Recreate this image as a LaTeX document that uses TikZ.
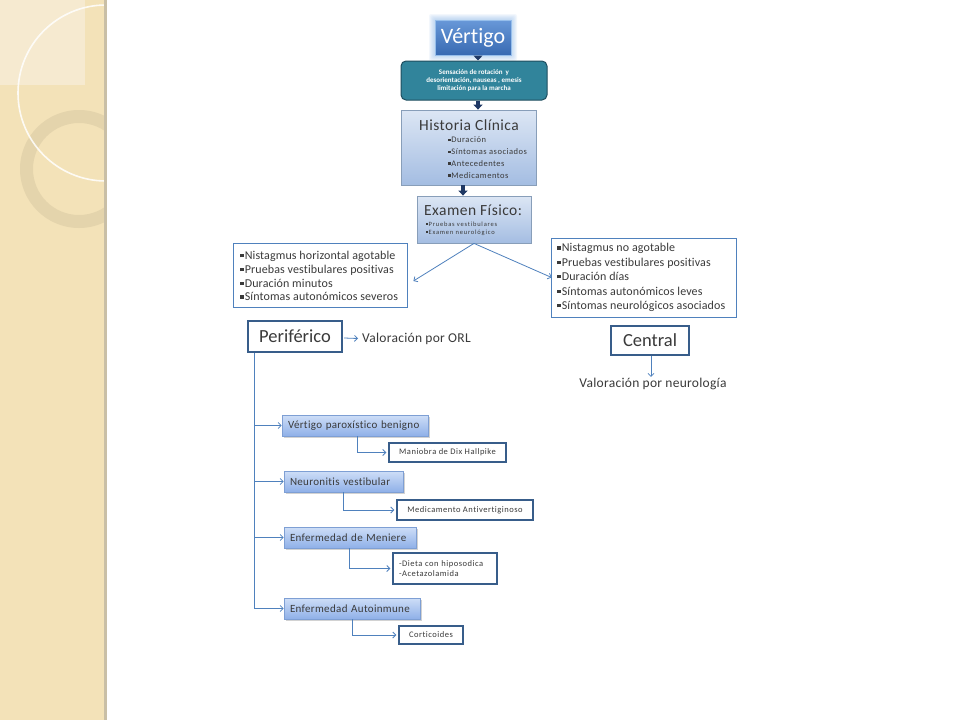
\documentclass[tikz,border=0pt]{standalone}
\usepackage{fontspec}
\setmainfont{Carlito}[Ligatures=NoCommon]
\usetikzlibrary{shadows,arrows.meta,calc}
\definecolor{band}{HTML}{F3E2B8}
\definecolor{bandlight}{HTML}{F6EAD0}
\definecolor{ringc}{HTML}{E4D4AC}
\definecolor{edgec}{HTML}{C9BFA6}
\definecolor{conn}{HTML}{4F81BD}
\definecolor{navy}{HTML}{1F3864}
\definecolor{teal}{HTML}{31849B}
\definecolor{tealdark}{HTML}{1F4E5F}
\definecolor{boxline}{HTML}{385D8A}
\definecolor{txt}{HTML}{3A3A3A}
\definecolor{glowc}{HTML}{8DB8EA}
\newcommand{\fs}[1]{\fontsize{#1}{#1}\selectfont}
\newcommand{\ls}[1]{\addfontfeature{LetterSpace=#1}}
\newcommand{\bul}{\raisebox{0.18em}{\rule{0.28em}{0.28em}}\hspace{0.1em}}
\tikzset{
  conline/.style={draw=conn, line width=0.8pt, -{Straight Barb[length=3pt,width=6pt]}},
  blockarrow/.style={draw=navy, line width=3.5pt, -{Triangle[width=9pt,length=5pt]}},
  histbox/.style={draw=boxline!60, line width=0.8pt, top color={rgb,255:red,220;green,230;blue,244}, bottom color={rgb,255:red,164;green,189;blue,226}, inner sep=0pt},
  disbox/.style={draw={rgb,255:red,126;green,159;blue,212}, line width=0.7pt, top color={rgb,255:red,206;green,222;blue,247}, bottom color={rgb,255:red,143;green,176;blue,232}, inner xsep=6pt, inner ysep=0pt, text=txt, font=\fs{11}\ls{3}, text width=#1, align=left, drop shadow={shadow xshift=1.5pt, shadow yshift=-1.5pt, opacity=.35}},
  listbox/.style={draw=conn, line width=0.8pt, fill=white, inner sep=0pt},
  bigbox/.style={draw=boxline, line width=2.4pt, fill=white, inner sep=0pt, text=txt, font=\fs{18.5}},
  subbox/.style={draw=boxline, line width=1.4pt, fill=white, inner sep=0pt, text=txt, font=\fs{8.5}\ls{6}},
  listtext/.style={anchor=west, align=left, inner sep=0pt, text=txt},
}
\begin{document}
\begin{tikzpicture}[x=1pt,y=-1pt]
\useasboundingbox (0,0) rectangle (960,720);
\fill[white] (0,0) rectangle (960,720);
% left decorative band
\fill[band] (0,0) rectangle (105,720);
\fill[bandlight] (0,0) rectangle (85,85);
\begin{scope}
  \clip (0,0) rectangle (105,720);
  \fill[ringc, even odd rule] (79,169) circle (59) (79,169) circle (46);
  \draw[white, line width=1.6pt, opacity=.85] (106,93) circle (88);
\end{scope}
\fill[edgec] (104,0) rectangle (106.5,720);

% glow around Vertigo
\foreach \i in {1,...,6} {
  \fill[glowc, opacity=0.10, rounded corners=2pt] ($(435,20)+(-\i,-\i)$) rectangle ($(511,55)+(\i,\i)$);
}
\node[draw={rgb,255:red,150;green,190;blue,235}, line width=1pt, top color={rgb,255:red,104;green,152;blue,216}, bottom color={rgb,255:red,56;green,106;blue,178}, minimum width=76pt, minimum height=35pt, inner sep=0pt, text=white, font=\fs{22}] (v) at (473,37.5) {Vértigo};

\node[draw=tealdark, line width=1pt, fill=teal, rounded corners=5pt, minimum width=146pt, minimum height=39pt, inner sep=0pt, text=white, font=\bfseries\fs{7}, align=center] (s) at (474,80.5) {Sensación de rotación\ \ y\\[1.3pt]desorientación, nauseas , emesis\\[1.3pt]limitación para la marcha};

\node[histbox, minimum width=135pt, minimum height=75pt] (h) at (468.5,147.5) {};
\node[text=txt, font=\fs{15.5}\ls{3}, inner sep=0pt] (ht) at (469,125) {Historia Clínica};
\node[listtext, font=\fs{8.5}\ls{6}] (hl) at (448,157.5) {\bul Duración\\[3.3pt]\bul Síntomas asociados\\[3.3pt]\bul Antecedentes\\[3.3pt]\bul Medicamentos};

\node[histbox, minimum width=114pt, minimum height=47pt] (e) at (474,219.5) {};
\node[anchor=west, text=txt, font=\fs{15.5}\ls{3}, inner sep=0pt] (et) at (424,210) {Examen Físico:};
\node[listtext, font=\fs{6.5}\ls{12}] (el) at (426,228.5) {\bul Pruebas vestibulares\\[1.8pt]\bul Examen neurológico};

\draw[blockarrow] ($(v.south)+(5,0)$) -- ($(s.north)+(4,0)$);
\draw[blockarrow] ($(s.south)+(4,0)$) -- ($(h.north)+(9.5,0)$);
\draw[blockarrow] ($(h.south)+(-5.5,0)$) -- ($(e.north)+(-11,0)$);

% list boxes
\node[listbox, minimum width=174pt, minimum height=64pt] (lb) at (320,275) {};
\node[listtext, font=\fs{12}\ls{1}] (lt) at (240,276) {\bul Nistagmus horizontal agotable\\[1.8pt]\bul Pruebas vestibulares positivas\\[1.8pt]\bul Duración minutos\\[1.8pt]\bul Síntomas autonómicos severos};
\node[listbox, minimum width=185pt, minimum height=79pt] (rb) at (643.5,277.5) {};
\node[listtext, font=\fs{12}\ls{1}] (rt) at (557,277.5) {\bul Nistagmus no agotable\\[2.4pt]\bul Pruebas vestibulares positivas\\[2.4pt]\bul Duración días\\[2.4pt]\bul Síntomas autonómicos leves\\[2.4pt]\bul Síntomas neurológicos asociados};

\draw[conline] (e.south) -- ($(lb.east)+(6,6)$);
\draw[conline] (e.south) -- ($(rb.west)+(1,0)$);

% Periferico / Central
\node[bigbox, minimum width=94pt, minimum height=31pt] (p) at (295,336.5) {Periférico};
\node[anchor=west, inner sep=0pt, text=txt, font=\fs{13.5}\ls{2}] (orl) at (362,338.5) {Valoración por ORL};
\draw[conline] ($(p.east)+(1,1.5)$) -- ($(orl.west)+(-4,0)$);

\node[bigbox, minimum width=78pt, minimum height=29pt] (c) at (650,340.5) {Central};
\node[inner sep=0pt, text=txt, font=\fs{13.5}\ls{2}] (neu) at (653,384) {Valoración por neurología};
\draw[conline] ($(c.south)+(1,0)$) -- ($(neu.north)+(-2,-1)$);

% disease boxes
\node[disbox=134pt, minimum height=21pt] (d1) at (355,425.5) {Vértigo paroxístico benigno};
\node[disbox=107pt, minimum height=21pt] (d2) at (343.5,481.5) {Neuronitis vestibular};
\node[disbox=120pt, minimum height=21pt] (d3) at (350,537.5) {Enfermedad de Meniere};
\node[disbox=124pt, minimum height=21pt] (d4) at (352,608.5) {Enfermedad Autoinmune};

\coordinate (pv) at ($(p.south west)+(8,0)$);
\draw[conline] (pv) |- (d1.west);
\draw[conline] (pv) |- (d2.west);
\draw[conline] (pv) |- (d3.west);
\draw[conline] (pv) |- (d4.west);

% sub boxes
\node[subbox, minimum width=117pt, minimum height=19pt] (s1) at (447.5,452.5) {Maniobra de Dix Hallpike};
\node[subbox, minimum width=136pt, minimum height=20pt] (s2) at (465,510) {Medicamento Antivertiginoso};
\node[subbox, minimum width=104pt, minimum height=31pt, align=left, text width=92pt, inner xsep=6pt] (s3) at (445,568.5) {-Dieta con hiposodica\\[1pt]-Acetazolamida};
\node[subbox, minimum width=64pt, minimum height=18pt] (s4) at (431,635) {Corticoides};

\draw[conline, shorten >=2pt] ($(d1.south)+(2,0)$) |- (s1.west);
\draw[conline, shorten >=2pt] (d2.south) |- (s2.west);
\draw[conline, shorten >=2pt] ($(d3.south)+(-1,0)$) |- (s3.west);
\draw[conline, shorten >=2pt] (d4.south) |- (s4.west);
\end{tikzpicture}
\end{document}
